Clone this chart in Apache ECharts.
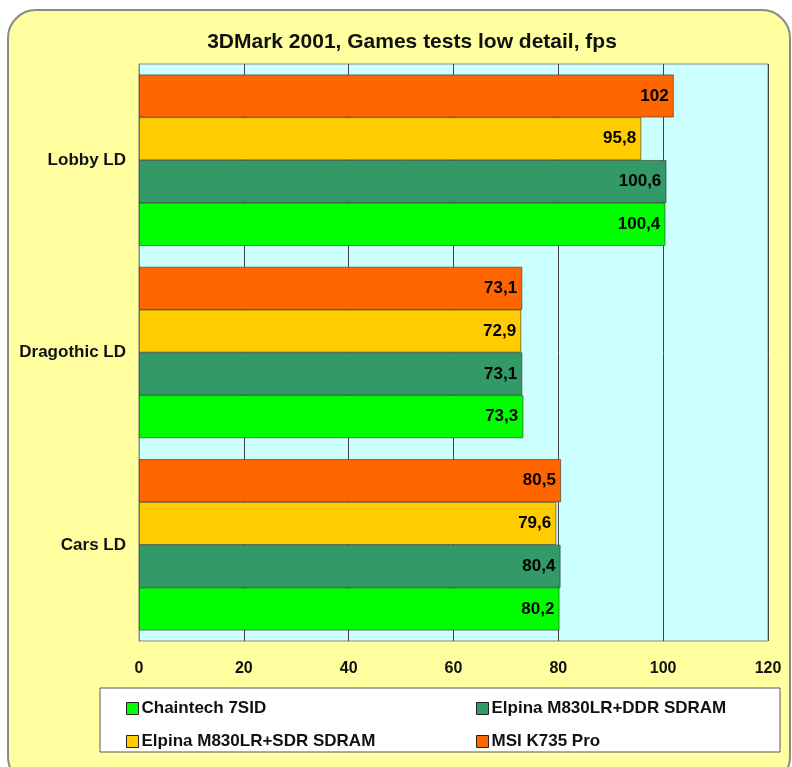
<!DOCTYPE html>
<html><head><meta charset="utf-8">
<script src="https://cdn.jsdelivr.net/npm/echarts@6/dist/echarts.min.js"></script>
<style>html,body{margin:0;padding:0;background:#fff}#c{width:792px;height:767px}</style>
</head><body><div id="c"></div>
<script>
var categories = ['Cars LD', 'Dragothic LD', 'Lobby LD'];
var seriesNames = ['Chaintech 7SID', 'Elpina M830LR+DDR SDRAM', 'Elpina M830LR+SDR SDRAM', 'MSI K735 Pro'];
var chaintech = [80.2, 73.3, 100.4];
var elpinaDDR = [80.4, 73.1, 100.6];
var elpinaSDR = [79.6, 72.9, 95.8];
var msi = [80.5, 73.1, 102];
var xTicks = [0, 20, 40, 60, 80, 100, 120];
var colors = ['#00FF00', '#339966', '#FFCC00', '#FF6600'];
var allData = [chaintech, elpinaDDR, elpinaSDR, msi];
var font = 'Liberation Sans, Arial, sans-serif';

var chart = echarts.init(document.getElementById('c'), null, {renderer: 'canvas'});
var series = seriesNames.map(function (n, i) {
  return {
    name: n, type: 'bar', data: allData[i],
    barCategoryGap: '11%', barGap: '0%',
    itemStyle: {color: colors[i], borderColor: '#333', borderWidth: 0.6},
    label: {show: true, position: 'insideRight', distance: 5, color: '#000', fontWeight: 'bold', fontSize: 17, fontFamily: font,
      formatter: function (p) { return String(p.value).replace('.', ','); }}
  };
}).reverse();
var legendCommon = {
  orient: 'horizontal', icon: 'rect', itemWidth: 12, itemHeight: 12, itemGap: 6, padding: 0,
  itemStyle: {borderColor: '#222', borderWidth: 1},
  textStyle: {fontFamily: font, fontWeight: 'bold', fontSize: 17, color: '#111', padding: [0, 0, 0, -2]}
};
chart.setOption({
  animation: false,
  backgroundColor: 'transparent',
  graphic: [
    {type: 'rect', z: -10, shape: {x: 8, y: 10, width: 782, height: 775, r: 28},
     style: {fill: '#FFFFA0', stroke: '#8a8a8a', lineWidth: 2}},
    {type: 'rect', z: -9, shape: {x: 100, y: 688, width: 680, height: 64},
     style: {fill: '#FFFFFF', stroke: '#555', lineWidth: 1}}
  ],
  title: {text: '3DMark 2001, Games tests low detail, fps', left: 407, top: 27, textAlign: 'center',
    textStyle: {fontFamily: font, fontWeight: 'bold', fontSize: 21, color: '#111'}},
  color: colors,
  grid: {left: 139, right: 24, top: 64, bottom: 126, containLabel: false, show: true, backgroundColor: '#CCFFFF', borderColor: '#888', borderWidth: 1},
  xAxis: {type: 'value', min: 0, max: 120, interval: 20,
    axisLine: {show: false}, axisTick: {show: false},
    splitLine: {show: true, lineStyle: {color: '#444', width: 1}},
    axisLabel: {margin: 20, fontFamily: font, fontWeight: 'bold', fontSize: 16, color: '#111',
      formatter: function (v) { return xTicks.indexOf(v) >= 0 ? String(v) : ''; }}},
  yAxis: {type: 'category', data: categories,
    axisLine: {show: true, lineStyle: {color: '#888'}}, axisTick: {show: false},
    axisLabel: {margin: 13, fontFamily: font, fontWeight: 'bold', fontSize: 17, color: '#111'}},
  legend: [
    Object.assign({}, legendCommon, {data: [seriesNames[0]], left: 126, top: 700}),
    Object.assign({}, legendCommon, {data: [seriesNames[1]], left: 476, top: 700}),
    Object.assign({}, legendCommon, {data: [seriesNames[2]], left: 126, top: 733}),
    Object.assign({}, legendCommon, {data: [seriesNames[3]], left: 476, top: 733})
  ],
  series: series
});
</script></body></html>
